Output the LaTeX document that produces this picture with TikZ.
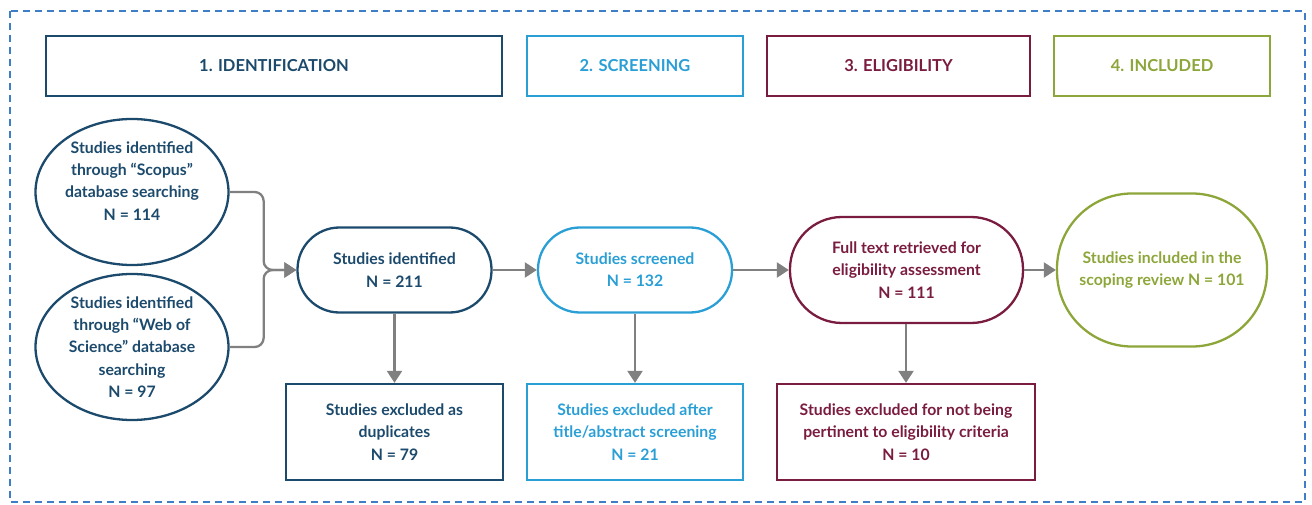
\documentclass[tikz,border=0pt]{standalone}
\usepackage{fontspec}
\setmainfont{Lato}
\usetikzlibrary{arrows.meta,shapes.geometric}
\definecolor{dblue}{HTML}{1C4A6C}
\definecolor{lblue}{HTML}{2A9FD6}
\definecolor{maroon}{HTML}{7A1C3F}
\definecolor{olive}{HTML}{8DA63A}
\definecolor{agray}{HTML}{808080}
\definecolor{dashblue}{HTML}{3D7EC6}
\begin{document}
\begin{tikzpicture}[x=1pt,y=-1pt,
  every node/.style={font=\fontsize{15.8}{22.3}\selectfont\bfseries, align=center, inner sep=0pt, line width=2.3pt},
  head/.style={draw, rectangle, minimum height=60pt},
  ell/.style={draw, ellipse, minimum width=193pt, minimum height=146pt},
  pill/.style={draw, rectangle, rounded corners=42pt, minimum width=194pt, minimum height=85pt},
  excl/.style={draw, rectangle, minimum height=96pt},
  arr/.style={draw=agray, line width=2.3pt, -{Triangle[length=12pt,width=15pt]}},
]
\useasboundingbox (0,0) rectangle (1312,505);
\draw[dashblue, line width=1.8pt, dash pattern=on 7pt off 5pt] (10,11) rectangle (1305,502);

% headers
\node[head, dblue, minimum width=456pt] (h1) at (274,66) {\fontsize{16.5}{18}\selectfont 1. IDENTIFICATION};
\node[head, lblue, minimum width=216pt] (h2) at (635,66) {\fontsize{16.5}{18}\selectfont 2. SCREENING};
\node[head, maroon, minimum width=263pt] (h3) at (898.5,66) {\fontsize{16.5}{18}\selectfont 3. ELIGIBILITY};
\node[head, olive, minimum width=216pt] (h4) at (1162,66) {\fontsize{16.5}{18}\selectfont 4. INCLUDED};

% identification sources
\node[ell, dblue] (sc) at (132,192) {Studies identified\\through “Scopus”\\database searching\\N = 114\\[0pt]};
\node[ell, dblue] (ws) at (132,347) {Studies identified\\through “Web of\\Science” database\\searching\\N = 97};

% main flow
\node[pill, dblue] (si) at (394.5,270) {Studies identified\\N = 211};
\node[pill, lblue] (ss) at (635,270) {Studies screened\\N = 132};
\node[draw, rectangle, rounded corners=52pt, minimum width=233pt, minimum height=106pt, maroon] (ft) at (906.5,270) {Full text retrieved for\\eligibility assessment\\N = 111};
\node[draw, rectangle, rounded corners=75pt, minimum width=210pt, minimum height=153pt, olive] (inc) at (1162,270) {Studies included in the\\scoping review N = 101};

% exclusions
\node[excl, dblue, minimum width=217pt] (ex1) at (394.5,432) {Studies excluded as\\duplicates\\N = 79};
\node[excl, lblue, minimum width=216pt] (ex2) at (635,432) {Studies excluded after\\title/abstract screening\\N = 21};
\node[excl, maroon, minimum width=258pt] (ex3) at (906,432) {Studies excluded for not being\\pertinent to eligibility criteria\\N = 10};

% connectors
\draw[arr, rounded corners=9pt] (sc.east) -- ++(34,0) |- (si.west);
\draw[arr, rounded corners=9pt] (ws.east) -- ++(34,0) |- (si.west);
\draw[arr] (si.east) -- (ss.west);
\draw[arr] (ss.east) -- (ft.west);
\draw[arr] (ft.east) -- (inc.west);
\draw[arr] (si.south) -- (ex1.north);
\draw[arr] (ss.south) -- (ex2.north);
\draw[arr] (ft.south -| ex3.north) -- (ex3.north);
\end{tikzpicture}
\end{document}
